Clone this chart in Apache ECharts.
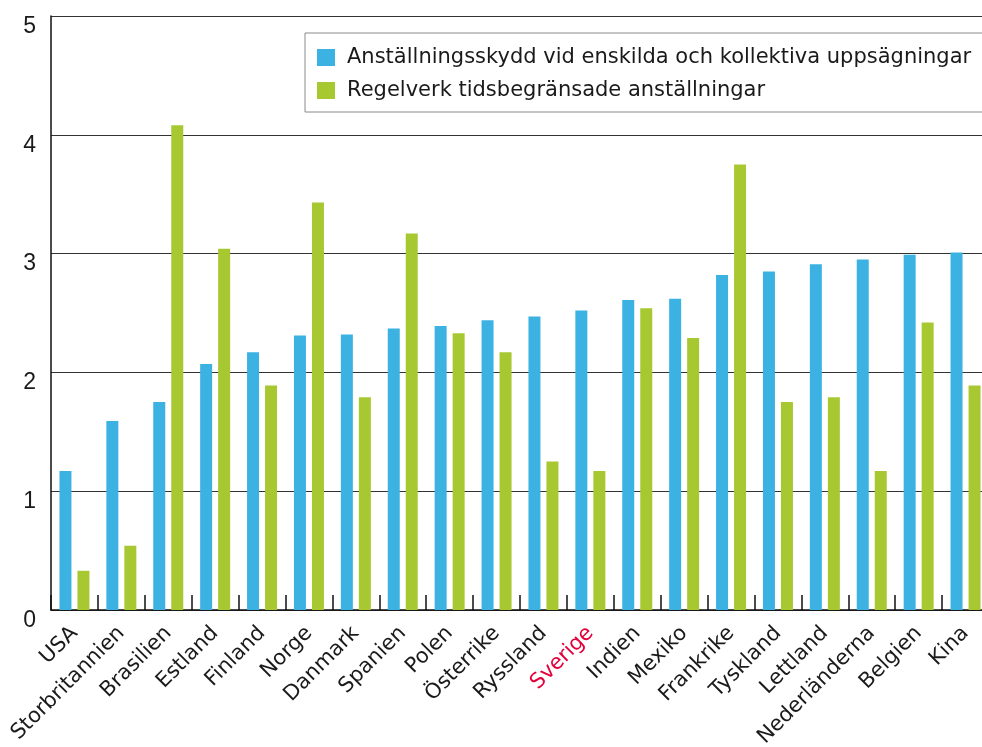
<!DOCTYPE html>
<html>
<head>
<meta charset="utf-8">
<script src="https://cdn.jsdelivr.net/npm/echarts@6/dist/echarts.min.js"></script>
<style>
  html, body { margin: 0; padding: 0; background: #fff; }
  #chart { width: 982px; height: 747px; }
</style>
</head>
<body>
<div id="chart"></div>
<script>
const countries = ['USA', 'Storbritannien', 'Brasilien', 'Estland', 'Finland', 'Norge', 'Danmark',
  'Spanien', 'Polen', 'Österrike', 'Ryssland', 'Sverige', 'Indien', 'Mexiko', 'Frankrike',
  'Tyskland', 'Lettland', 'Nederländerna', 'Belgien', 'Kina']
const dismissal = [1.17, 1.59, 1.75, 2.07, 2.17, 2.31, 2.32, 2.37, 2.39, 2.44, 2.47, 2.52,
  2.61, 2.62, 2.82, 2.85, 2.91, 2.95, 2.99, 3.01]
const temporary = [0.33, 0.54, 4.08, 3.04, 1.89, 3.43, 1.79, 3.17, 2.33, 2.17, 1.25, 1.17,
  2.54, 2.29, 3.75, 1.75, 1.79, 1.17, 2.42, 1.89]
const yTicks = [0, 1, 2, 3, 4, 5]
const seriesNames = ['Anställningsskydd vid enskilda och kollektiva uppsägningar',
  'Regelverk tidsbegränsade anställningar']

const font = '"Liberation Sans", Arial, sans-serif'
const wideFont = '"DejaVu Sans", Verdana, sans-serif'
const chart = echarts.init(document.getElementById('chart'))

// Sverige is highlighted in red on the category axis
const categoryData = countries.map(name => {
  if (name === 'Sverige') {
    return { value: name, textStyle: { color: '#e4003b' } }
  }
  return name
})

const option = {
  animation: false,
  textStyle: { fontFamily: font },
  grid: {
    left: 51,
    top: 16,
    right: -7,
    bottom: 137,
    outerBoundsMode: 'none'
  },
  legend: {
    orient: 'vertical',
    left: 305,
    top: 33,
    padding: [12, 60, 9, 12],
    borderColor: '#8a8a8a',
    borderWidth: 1,
    itemWidth: 18,
    itemHeight: 17,
    itemGap: 8,
    icon: 'rect',
    data: seriesNames,
    textStyle: {
      fontFamily: wideFont,
      fontSize: 21,
      lineHeight: 25,
      color: '#1a1a1a',
      padding: [0, 0, 0, 7]
    }
  },
  xAxis: {
    type: 'category',
    data: categoryData,
    axisLine: { lineStyle: { color: '#111', width: 1.5 } },
    axisTick: {
      show: true,
      inside: true,
      length: 15,
      lineStyle: { color: '#111', width: 1.5 }
    },
    axisLabel: {
      rotate: 45,
      interval: 0,
      margin: 20,
      fontSize: 21,
      color: '#1a1a1a',
      fontFamily: wideFont
    }
  },
  yAxis: {
    type: 'value',
    min: yTicks[0],
    max: yTicks[yTicks.length - 1],
    interval: 1,
    axisLine: { show: true, lineStyle: { color: '#111', width: 1.5 } },
    axisTick: { show: false },
    splitLine: { lineStyle: { color: '#333', width: 1 } },
    axisLabel: {
      fontSize: 23,
      color: '#1a1a1a',
      margin: 15,
      verticalAlign: 'top',
      padding: [-1, 0, 0, 0],
      fontFamily: font
    }
  },
  series: [
    {
      name: seriesNames[0],
      type: 'bar',
      data: dismissal,
      barWidth: 12,
      barGap: '50%',
      itemStyle: { color: '#3cb2e3' }
    },
    {
      name: seriesNames[1],
      type: 'bar',
      data: temporary,
      barWidth: 12,
      itemStyle: { color: '#a8c832' }
    }
  ]
}

chart.setOption(option)
</script>
</body>
</html>
